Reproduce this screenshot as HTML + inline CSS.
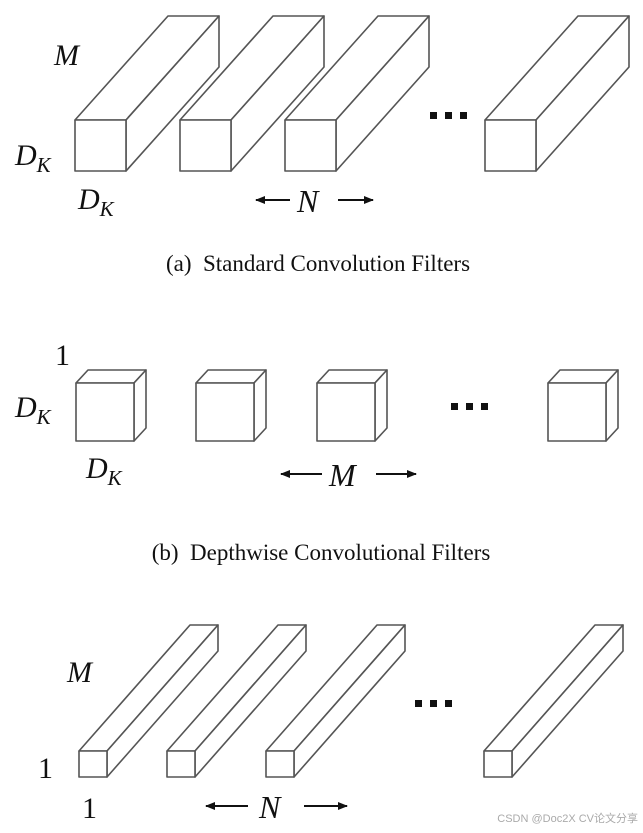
<!DOCTYPE html>
<html><head><meta charset="utf-8"><style>
html,body{margin:0;padding:0;background:#fff;}
svg{display:block;}
text{font-family:"Liberation Serif",serif;fill:#111;}
.m{font-style:italic;}
</style></head><body>
<svg width="643" height="833" viewBox="0 0 643 833" xmlns="http://www.w3.org/2000/svg">
<defs>
<marker id="ah" markerWidth="10" markerHeight="8" refX="9" refY="4" orient="auto" markerUnits="userSpaceOnUse">
<path d="M0,0 L10,4 L0,8 Z" fill="#111"/></marker>
</defs>
<g fill="#fff" stroke="#555" stroke-width="1.6" stroke-linejoin="round">
<g id="a">
<path d="M75,120 L168,16 L219,16 L126,120 Z"/>
<path d="M126,120 L219,16 L219,67 L126,171 Z"/>
<rect x="75" y="120" width="51" height="51"/>
</g>
<use href="#a" x="105"/>
<use href="#a" x="210"/>
<use href="#a" x="410"/>
<g id="b">
<path d="M76,383 L88,370 L146,370 L134,383 Z"/>
<path d="M134,383 L146,370 L146,428 L134,441 Z"/>
<rect x="76" y="383" width="58" height="58"/>
</g>
<use href="#b" x="120"/>
<use href="#b" x="241"/>
<use href="#b" x="472"/>
<g id="c">
<path d="M79,751 L190,625 L218,625 L107,751 Z"/>
<path d="M107,751 L218,625 L218,651 L107,777 Z"/>
<rect x="79" y="751" width="28" height="26"/>
</g>
<use href="#c" x="88"/>
<use href="#c" x="187"/>
<use href="#c" x="405"/>
</g>
<g fill="#111">
<rect x="430" y="112" width="7" height="7"/><rect x="445" y="112" width="7" height="7"/><rect x="460" y="112" width="7" height="7"/>
<rect x="451" y="403" width="7" height="7"/><rect x="466" y="403" width="7" height="7"/><rect x="481" y="403" width="7" height="7"/>
<rect x="415" y="700" width="7" height="7"/><rect x="430" y="700" width="7" height="7"/><rect x="445" y="700" width="7" height="7"/>
</g>
<text x="54" y="65" font-size="30" class="m">M</text>
<text x="15" y="165" font-size="30" class="m">D<tspan font-size="21" dy="7">K</tspan></text>
<text x="78" y="209" font-size="30" class="m">D<tspan font-size="21" dy="7">K</tspan></text>
<line x1="290" y1="200" x2="256" y2="200" stroke="#111" stroke-width="2" marker-end="url(#ah)"/>
<text x="297" y="212" font-size="32" class="m">N</text>
<line x1="338" y1="200" x2="373" y2="200" stroke="#111" stroke-width="2" marker-end="url(#ah)"/>
<text x="318" y="271" font-size="23" text-anchor="middle" xml:space="preserve">(a)  Standard Convolution Filters</text>
<text x="55" y="365" font-size="30">1</text>
<text x="15" y="417" font-size="30" class="m">D<tspan font-size="21" dy="7">K</tspan></text>
<text x="86" y="478" font-size="30" class="m">D<tspan font-size="21" dy="7">K</tspan></text>
<line x1="322" y1="474" x2="281" y2="474" stroke="#111" stroke-width="2" marker-end="url(#ah)"/>
<text x="329" y="486" font-size="32" class="m">M</text>
<line x1="376" y1="474" x2="416" y2="474" stroke="#111" stroke-width="2" marker-end="url(#ah)"/>
<text x="321" y="560" font-size="23" text-anchor="middle" xml:space="preserve">(b)  Depthwise Convolutional Filters</text>
<text x="67" y="682" font-size="30" class="m">M</text>
<text x="38" y="778" font-size="30">1</text>
<text x="82" y="818" font-size="30">1</text>
<line x1="248" y1="806" x2="206" y2="806" stroke="#111" stroke-width="2" marker-end="url(#ah)"/>
<text x="259" y="818" font-size="32" class="m">N</text>
<line x1="304" y1="806" x2="347" y2="806" stroke="#111" stroke-width="2" marker-end="url(#ah)"/>
<text x="638" y="822" font-size="11" text-anchor="end" style="font-family:'Liberation Sans','Noto Sans CJK SC',sans-serif;fill:#aaa">CSDN @Doc2X CV论文分享</text>
</svg>
</body></html>
